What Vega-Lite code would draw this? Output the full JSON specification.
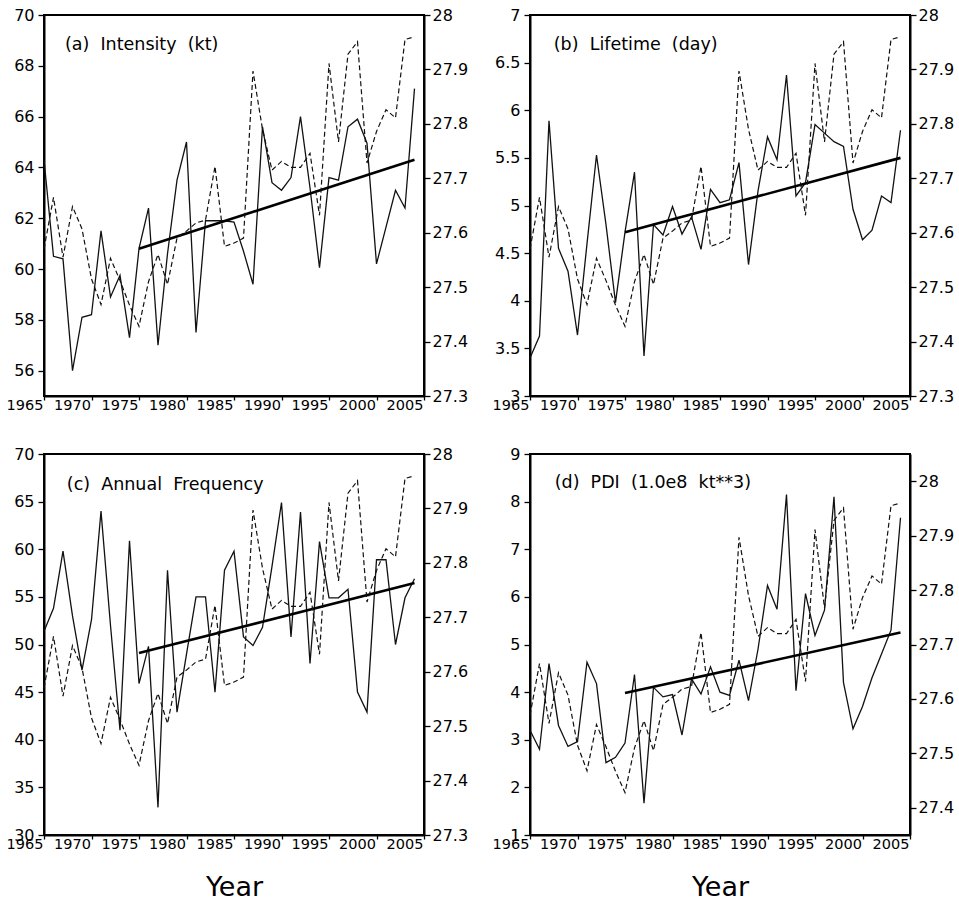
{
  "$schema": "https://vega.github.io/schema/vega-lite/v6.json",
  "background": "white",
  "padding": {"left": 5, "top": 6, "right": 5, "bottom": 5},
  "bounds": "flush",
  "columns": 2,
  "spacing": {"row": 58, "column": 106},
  "datasets": {
    "vals": [
      {"year": 1965, "a": 64.3, "b": 3.40, "c": 51.4, "d": 3.2, "sst": 27.57},
      {"year": 1966, "a": 60.5, "b": 3.63, "c": 53.8, "d": 2.8, "sst": 27.665},
      {"year": 1967, "a": 60.4, "b": 5.89, "c": 59.8, "d": 4.6, "sst": 27.555},
      {"year": 1968, "a": 56.0, "b": 4.55, "c": 53.0, "d": 3.3, "sst": 27.648},
      {"year": 1969, "a": 58.1, "b": 4.31, "c": 47.3, "d": 2.86, "sst": 27.607},
      {"year": 1970, "a": 58.2, "b": 3.64, "c": 52.6, "d": 2.96, "sst": 27.515},
      {"year": 1971, "a": 61.5, "b": 4.6, "c": 64.0, "d": 4.63, "sst": 27.468},
      {"year": 1972, "a": 58.9, "b": 5.53, "c": 52.0, "d": 4.18, "sst": 27.553},
      {"year": 1973, "a": 59.75, "b": 4.8, "c": 41.0, "d": 2.52, "sst": 27.512},
      {"year": 1974, "a": 57.3, "b": 3.98, "c": 60.9, "d": 2.63, "sst": 27.467},
      {"year": 1975, "a": 60.8, "b": 4.72, "c": 45.9, "d": 2.93, "sst": 27.428},
      {"year": 1976, "a": 62.4, "b": 5.35, "c": 49.8, "d": 4.37, "sst": 27.51},
      {"year": 1977, "a": 57.0, "b": 3.42, "c": 32.9, "d": 1.67, "sst": 27.56},
      {"year": 1978, "a": 60.6, "b": 4.8, "c": 57.8, "d": 4.1, "sst": 27.505},
      {"year": 1979, "a": 63.5, "b": 4.69, "c": 42.9, "d": 3.9, "sst": 27.59},
      {"year": 1980, "a": 65.0, "b": 4.99, "c": 49.0, "d": 3.95, "sst": 27.603},
      {"year": 1981, "a": 57.5, "b": 4.70, "c": 55.0, "d": 3.1, "sst": 27.618},
      {"year": 1982, "a": 61.9, "b": 4.88, "c": 55.0, "d": 4.28, "sst": 27.623},
      {"year": 1983, "a": 61.9, "b": 4.54, "c": 45.0, "d": 3.96, "sst": 27.722},
      {"year": 1984, "a": 61.9, "b": 5.17, "c": 57.8, "d": 4.53, "sst": 27.575},
      {"year": 1985, "a": 61.85, "b": 5.03, "c": 59.8, "d": 4.0, "sst": 27.581},
      {"year": 1986, "a": 60.7, "b": 5.06, "c": 50.8, "d": 3.93, "sst": 27.59},
      {"year": 1987, "a": 59.4, "b": 5.45, "c": 49.9, "d": 4.67, "sst": 27.897},
      {"year": 1988, "a": 65.6, "b": 4.38, "c": 51.8, "d": 3.82, "sst": 27.79},
      {"year": 1989, "a": 63.4, "b": 5.15, "c": 58.2, "d": 4.9, "sst": 27.715},
      {"year": 1990, "a": 63.1, "b": 5.72, "c": 64.9, "d": 6.24, "sst": 27.731},
      {"year": 1991, "a": 63.6, "b": 5.48, "c": 50.8, "d": 5.74, "sst": 27.72},
      {"year": 1992, "a": 66.0, "b": 6.37, "c": 63.9, "d": 8.15, "sst": 27.72},
      {"year": 1993, "a": 63.2, "b": 5.10, "c": 48.0, "d": 4.03, "sst": 27.746},
      {"year": 1994, "a": 60.05, "b": 5.24, "c": 60.8, "d": 6.07, "sst": 27.632},
      {"year": 1995, "a": 63.6, "b": 5.85, "c": 54.9, "d": 5.19, "sst": 27.911},
      {"year": 1996, "a": 63.5, "b": 5.76, "c": 54.9, "d": 5.72, "sst": 27.767},
      {"year": 1997, "a": 65.6, "b": 5.67, "c": 55.8, "d": 8.1, "sst": 27.928},
      {"year": 1998, "a": 65.9, "b": 5.62, "c": 45.0, "d": 4.2, "sst": 27.951},
      {"year": 1999, "a": 64.95, "b": 4.96, "c": 42.9, "d": 3.23, "sst": 27.728},
      {"year": 2000, "a": 60.2, "b": 4.64, "c": 58.9, "d": 3.7, "sst": 27.786},
      {"year": 2001, "a": 61.65, "b": 4.74, "c": 58.9, "d": 4.3, "sst": 27.826},
      {"year": 2002, "a": 63.1, "b": 5.10, "c": 50.0, "d": 4.8, "sst": 27.811},
      {"year": 2003, "a": 62.4, "b": 5.03, "c": 54.9, "d": 5.3, "sst": 27.955},
      {"year": 2004, "a": 67.1, "b": 5.79, "c": 56.9, "d": 7.66, "sst": 27.96}
    ],
    "trend": [
      {"year": 1975, "a": 60.8, "b": 4.72, "c": 49.1, "d": 3.98},
      {"year": 2004, "a": 64.3, "b": 5.5, "c": 56.45, "d": 5.25}
    ]
  },
  "concat": [
    {
      "width": 380, "height": 381,
      "layer": [
        {
          "layer": [
            {
              "data": {"name": "vals"},
              "mark": {"type": "line", "color": "#111", "strokeWidth": 1.3},
              "encoding": {
                "x": {"field": "year", "type": "quantitative", "scale": {"domain": [1965, 2005], "nice": false, "zero": false},
                  "axis": {"values": [1965,1970,1975,1980,1985,1990,1995,2000,2005], "format": "d", "title": null, "labelAlign": "right", "labelFlush": false, "labelOverlap": false, "tickSize": 4, "labelPadding": -2, "labelOffset": -1}},
                "y": {"field": "a", "type": "quantitative", "scale": {"domain": [55, 70], "nice": false, "zero": false},
                  "axis": {"values": [56,58,60,62,64,66,68,70], "title": null, "orient": "left", "tickSize": 6, "labelPadding": 4, "labelOverlap": false}}
              }
            },
            {
              "data": {"name": "trend"},
              "mark": {"type": "line", "color": "#000", "strokeWidth": 2.6},
              "encoding": {"x": {"field": "year", "type": "quantitative"}, "y": {"field": "a", "type": "quantitative"}}
            },
            {
              "data": {"values": [{}]},
              "mark": {"type": "text", "align": "left", "baseline": "middle", "fontSize": 17.5, "font": "DejaVu Sans", "color": "#000"},
              "encoding": {"x": {"datum": 1967.2, "type": "quantitative"}, "y": {"datum": 68.8, "type": "quantitative"}, "text": {"value": "(a) \u00a0Intensity \u00a0(kt)"}}
            }
          ]
        },
        {
          "data": {"name": "vals"},
          "mark": {"type": "line", "color": "#111", "strokeWidth": 1.2, "strokeDash": [5, 3]},
          "encoding": {
            "x": {"field": "year", "type": "quantitative"},
            "y": {"field": "sst", "type": "quantitative", "scale": {"domain": [27.3, 28], "nice": false, "zero": false},
              "axis": {"values": [27.3,27.4,27.5,27.6,27.7,27.8,27.9,28], "format": "~g", "title": null, "orient": "right", "tickSize": 6, "labelPadding": 2, "labelOverlap": false}}
          }
        }
      ],
      "resolve": {"scale": {"y": "independent"}}
    },
    {
      "width": 380, "height": 381,
      "layer": [
        {
          "layer": [
            {
              "data": {"name": "vals"},
              "mark": {"type": "line", "color": "#111", "strokeWidth": 1.3},
              "encoding": {
                "x": {"field": "year", "type": "quantitative", "scale": {"domain": [1965, 2005], "nice": false, "zero": false},
                  "axis": {"values": [1965,1970,1975,1980,1985,1990,1995,2000,2005], "format": "d", "title": null, "labelAlign": "right", "labelFlush": false, "labelOverlap": false, "tickSize": 4, "labelPadding": -2, "labelOffset": -1}},
                "y": {"field": "b", "type": "quantitative", "scale": {"domain": [3, 7], "nice": false, "zero": false},
                  "axis": {"values": [3,3.5,4,4.5,5,5.5,6,6.5,7], "format": "~g", "title": null, "orient": "left", "tickSize": 6, "labelPadding": 4, "labelOverlap": false}}
              }
            },
            {
              "data": {"name": "trend"},
              "mark": {"type": "line", "color": "#000", "strokeWidth": 2.6},
              "encoding": {"x": {"field": "year", "type": "quantitative"}, "y": {"field": "b", "type": "quantitative"}}
            },
            {
              "data": {"values": [{}]},
              "mark": {"type": "text", "align": "left", "baseline": "middle", "fontSize": 17.5, "font": "DejaVu Sans", "color": "#000"},
              "encoding": {"x": {"datum": 1967.5, "type": "quantitative"}, "y": {"datum": 6.69, "type": "quantitative"}, "text": {"value": "(b) \u00a0Lifetime \u00a0(day)"}}
            }
          ]
        },
        {
          "data": {"name": "vals"},
          "mark": {"type": "line", "color": "#111", "strokeWidth": 1.2, "strokeDash": [5, 3]},
          "encoding": {
            "x": {"field": "year", "type": "quantitative"},
            "y": {"field": "sst", "type": "quantitative", "scale": {"domain": [27.3, 28], "nice": false, "zero": false},
              "axis": {"values": [27.3,27.4,27.5,27.6,27.7,27.8,27.9,28], "format": "~g", "title": null, "orient": "right", "tickSize": 6, "labelPadding": 2, "labelOverlap": false}}
          }
        }
      ],
      "resolve": {"scale": {"y": "independent"}}
    },
    {
      "width": 380, "height": 381,
      "layer": [
        {
          "layer": [
            {
              "data": {"name": "vals"},
              "mark": {"type": "line", "color": "#111", "strokeWidth": 1.3},
              "encoding": {
                "x": {"field": "year", "type": "quantitative", "scale": {"domain": [1965, 2005], "nice": false, "zero": false},
                  "axis": {"values": [1965,1970,1975,1980,1985,1990,1995,2000,2005], "format": "d", "title": "Year", "titleFontSize": 27, "titleFontWeight": "normal", "titlePadding": 24, "labelAlign": "right", "labelFlush": false, "labelOverlap": false, "tickSize": 4, "labelPadding": -2, "labelOffset": -1}},
                "y": {"field": "c", "type": "quantitative", "scale": {"domain": [30, 70], "nice": false, "zero": false},
                  "axis": {"values": [30,35,40,45,50,55,60,65,70], "title": null, "orient": "left", "tickSize": 6, "labelPadding": 4, "labelOverlap": false}}
              }
            },
            {
              "data": {"name": "trend"},
              "mark": {"type": "line", "color": "#000", "strokeWidth": 2.6},
              "encoding": {"x": {"field": "year", "type": "quantitative"}, "y": {"field": "c", "type": "quantitative"}}
            },
            {
              "data": {"values": [{}]},
              "mark": {"type": "text", "align": "left", "baseline": "middle", "fontSize": 17.5, "font": "DejaVu Sans", "color": "#000"},
              "encoding": {"x": {"datum": 1967.4, "type": "quantitative"}, "y": {"datum": 66.75, "type": "quantitative"}, "text": {"value": "(c) \u00a0Annual \u00a0Frequency"}}
            }
          ]
        },
        {
          "data": {"name": "vals"},
          "mark": {"type": "line", "color": "#111", "strokeWidth": 1.2, "strokeDash": [5, 3]},
          "encoding": {
            "x": {"field": "year", "type": "quantitative"},
            "y": {"field": "sst", "type": "quantitative", "scale": {"domain": [27.3, 28], "nice": false, "zero": false},
              "axis": {"values": [27.3,27.4,27.5,27.6,27.7,27.8,27.9,28], "format": "~g", "title": null, "orient": "right", "tickSize": 6, "labelPadding": 2, "labelOverlap": false}}
          }
        }
      ],
      "resolve": {"scale": {"y": "independent"}}
    },
    {
      "width": 380, "height": 381,
      "layer": [
        {
          "layer": [
            {
              "data": {"name": "vals"},
              "mark": {"type": "line", "color": "#111", "strokeWidth": 1.3},
              "encoding": {
                "x": {"field": "year", "type": "quantitative", "scale": {"domain": [1965, 2005], "nice": false, "zero": false},
                  "axis": {"values": [1965,1970,1975,1980,1985,1990,1995,2000,2005], "format": "d", "title": "Year", "titleFontSize": 27, "titleFontWeight": "normal", "titlePadding": 24, "labelAlign": "right", "labelFlush": false, "labelOverlap": false, "tickSize": 4, "labelPadding": -2, "labelOffset": -1}},
                "y": {"field": "d", "type": "quantitative", "scale": {"domain": [1, 9], "nice": false, "zero": false},
                  "axis": {"values": [1,2,3,4,5,6,7,8,9], "title": null, "orient": "left", "tickSize": 6, "labelPadding": 4, "labelOverlap": false}}
              }
            },
            {
              "data": {"name": "trend"},
              "mark": {"type": "line", "color": "#000", "strokeWidth": 2.6},
              "encoding": {"x": {"field": "year", "type": "quantitative"}, "y": {"field": "d", "type": "quantitative"}}
            },
            {
              "data": {"values": [{}]},
              "mark": {"type": "text", "align": "left", "baseline": "middle", "fontSize": 17.5, "font": "DejaVu Sans", "color": "#000"},
              "encoding": {"x": {"datum": 1967.6, "type": "quantitative"}, "y": {"datum": 8.39, "type": "quantitative"}, "text": {"value": "(d) \u00a0PDI \u00a0(1.0e8 \u00a0kt**3)"}}
            }
          ]
        },
        {
          "data": {"name": "vals"},
          "mark": {"type": "line", "color": "#111", "strokeWidth": 1.2, "strokeDash": [5, 3]},
          "encoding": {
            "x": {"field": "year", "type": "quantitative"},
            "y": {"field": "sst", "type": "quantitative", "scale": {"domain": [27.35, 28.05], "nice": false, "zero": false},
              "axis": {"values": [27.4,27.5,27.6,27.7,27.8,27.9,28], "format": "~g", "title": null, "orient": "right", "tickSize": 6, "labelPadding": 2, "labelOverlap": false}}
          }
        }
      ],
      "resolve": {"scale": {"y": "independent"}}
    }
  ],
  "config": {
    "font": "DejaVu Sans",
    "view": {"stroke": "#000", "strokeWidth": 2},
    "axis": {"domainColor": "#000", "domainWidth": 2, "tickColor": "#000", "tickWidth": 1.3, "labelColor": "#000", "labelFont": "DejaVu Sans", "labelFontSize": 14.5, "titleColor": "#000", "titleFont": "DejaVu Sans", "titleFontWeight": "normal", "grid": false},
    "axisY": {"labelFontSize": 16},
    "axisX": {"labelFontSize": 14.5}
  }
}
